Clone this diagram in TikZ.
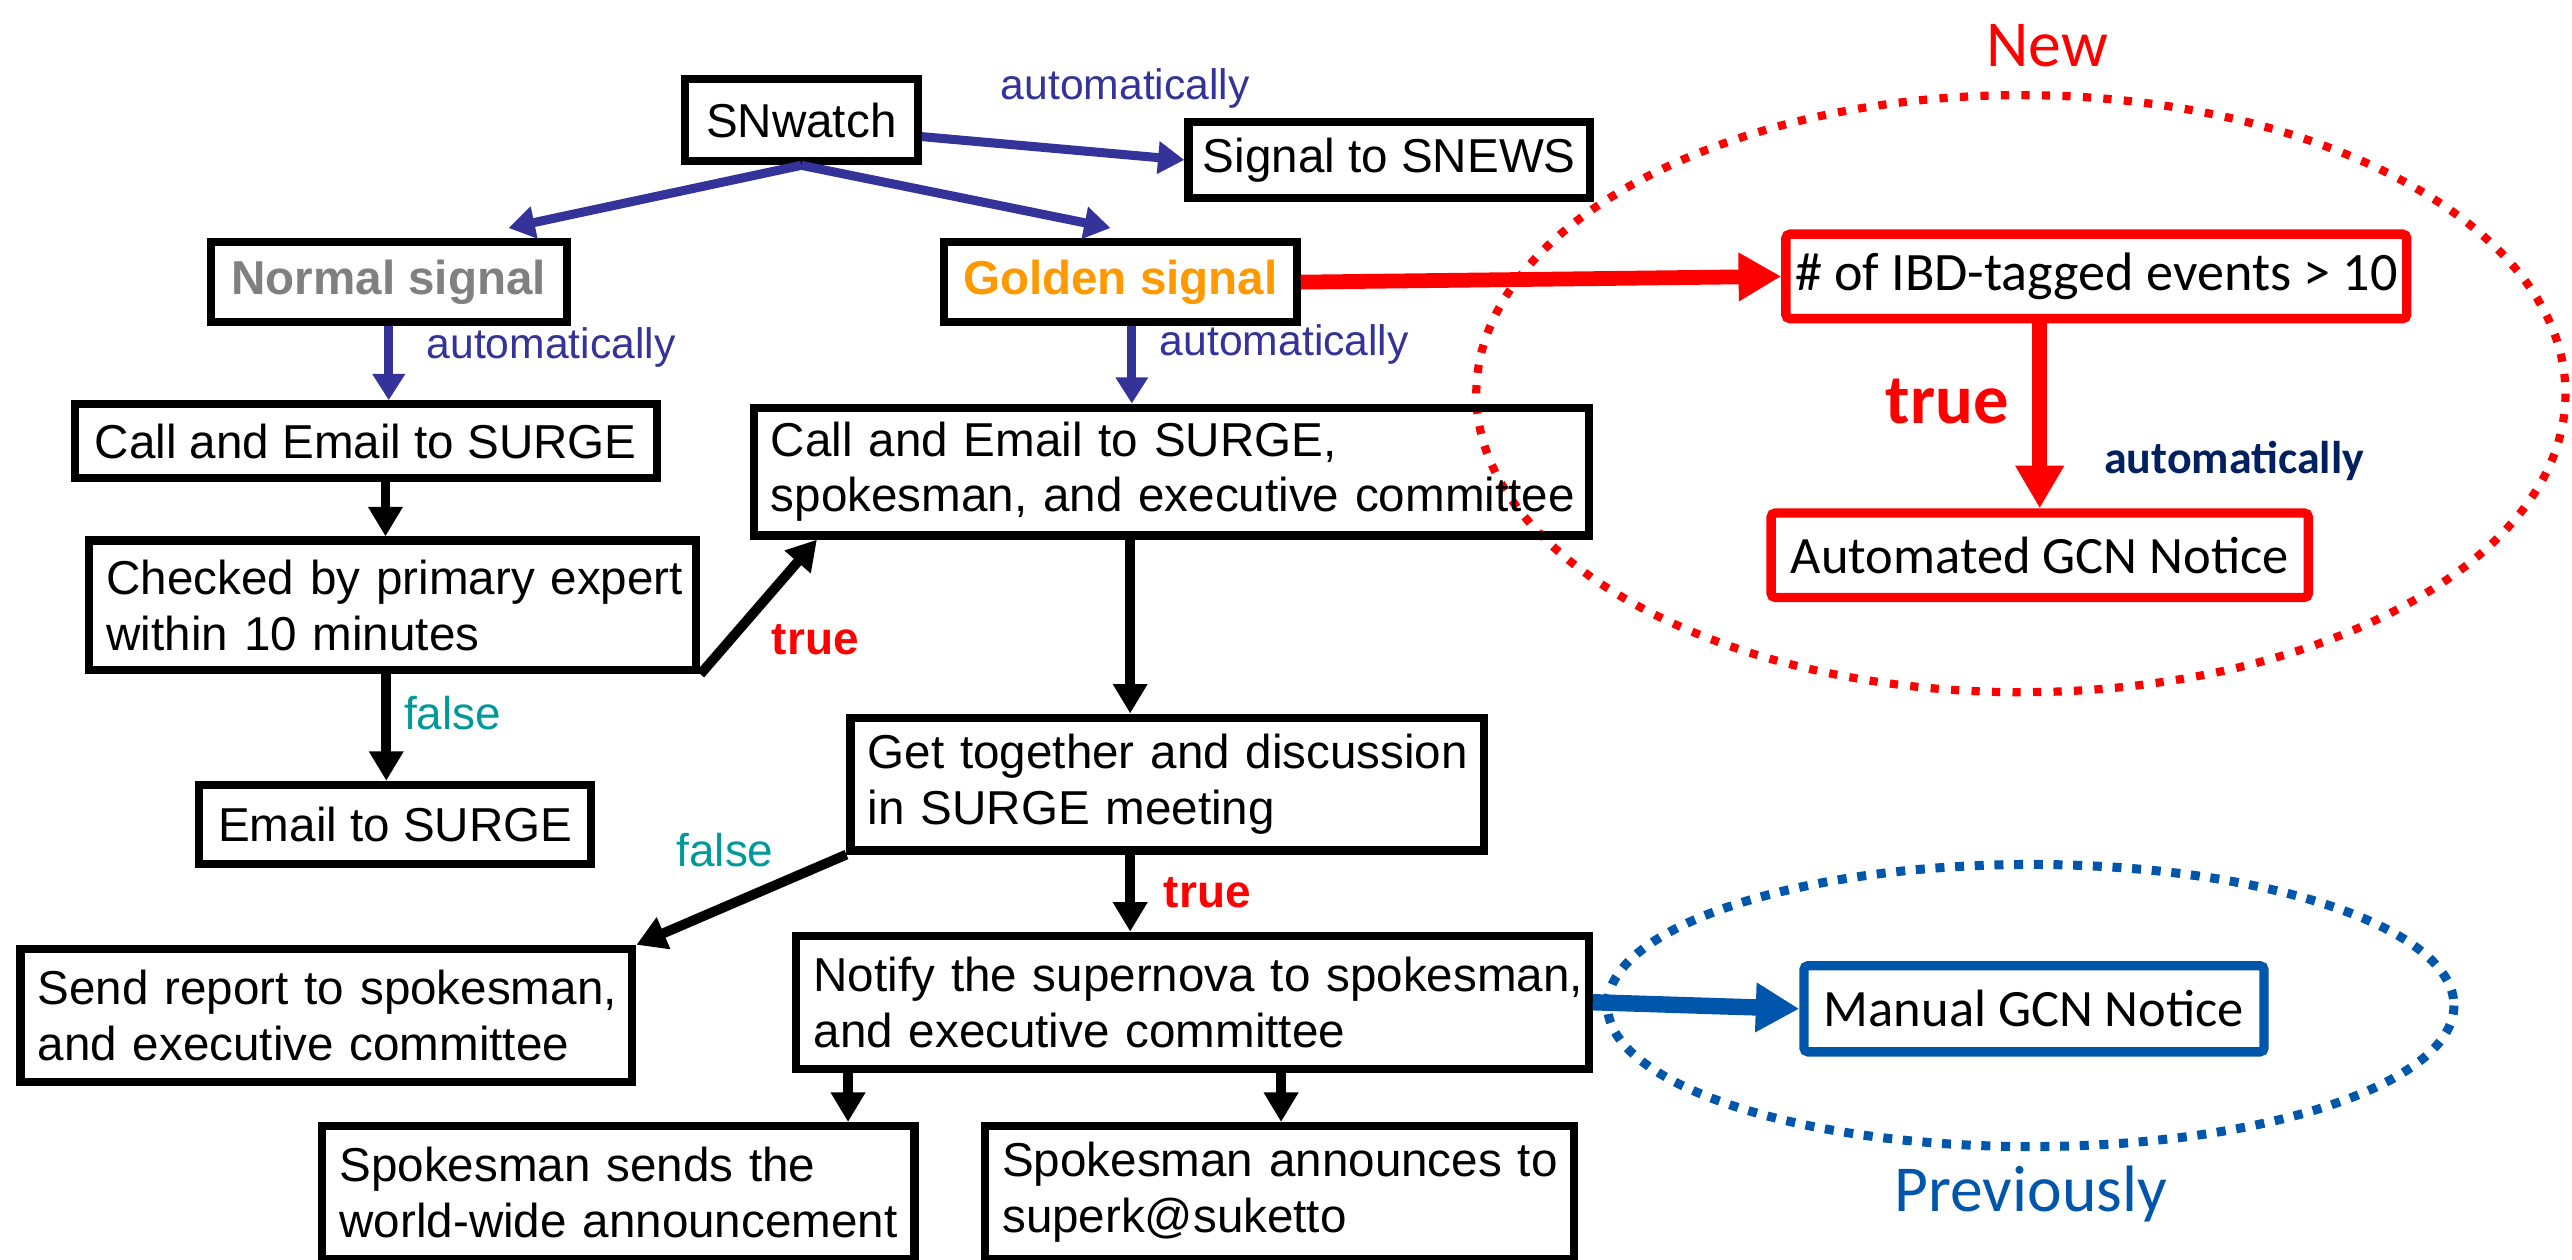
\documentclass[tikz,border=0pt]{standalone}
\usepackage{fontspec}
\setmainfont{Liberation Sans}
\newfontfamily\calib{Carlito}
\usetikzlibrary{arrows.meta,calc}
\definecolor{navyA}{RGB}{51,51,153}
\definecolor{goldC}{RGB}{255,153,0}
\definecolor{grayC}{RGB}{128,128,128}
\definecolor{tealC}{RGB}{0,153,153}
\definecolor{redC}{RGB}{255,0,0}
\definecolor{blueC}{RGB}{0,86,170}
\definecolor{navyT}{RGB}{0,32,96}
\newcommand\oneln[1]{\mbox{#1}}
\tikzset{
  bx/.style={draw=black, line width=5pt, inner sep=0pt, font=\fontsize{29}{34}\selectfont, align=center},
  lbx/.style={bx, align=left},
  rbx/.style={draw=redC, line width=5.7pt, rounded corners=2.5pt, inner sep=0pt, font={\calib\fontsize{32}{38}\selectfont}, align=center},
  bbx/.style={draw=blueC, line width=5.7pt, rounded corners=2.5pt, inner sep=0pt, font={\calib\fontsize{32}{38}\selectfont}, align=center},
  navyarr/.style={draw=navyA, line width=5.5pt, -{Triangle[length=16pt,width=19pt]}},
  blkarr/.style={draw=black, line width=6pt, -{Triangle[length=18pt,width=20pt]}},
  redarr/.style={draw=redC, line width=9pt, -{Triangle[length=26pt,width=28pt]}},
  bluearr/.style={draw=blueC, line width=10pt, -{Triangle[length=26.5pt,width=28.5pt]}},
  autolab/.style={inner sep=0pt, text=navyA, font=\fontsize{26}{30}\selectfont},
  falselab/.style={inner sep=0pt, text=tealC, font=\fontsize{28}{32}\selectfont},
  truelab/.style={inner sep=0pt, text=redC, font=\bfseries\fontsize{28}{32}\selectfont},
  bigred/.style={inner sep=0pt, text=redC, font={\calib\fontsize{40}{46}\selectfont}},
  bigblue/.style={inner sep=0pt, text=blueC, font={\calib\fontsize{40}{46}\selectfont}},
  reddots/.style={draw=redC, line width=5pt, dash pattern=on 5pt off 7.5pt},
  bluedots/.style={draw=blueC, line width=5.5pt, dash pattern=on 5.5pt off 6.5pt}
}
\begin{document}
\begin{tikzpicture}[x=1pt,y=-1pt]
\fill[white] (0,0) rectangle (1568,768);
\useasboundingbox (0,0) rectangle (1568,768);

% ellipses
\draw[reddots] (1232,240) ellipse [x radius=332, y radius=182];
\draw[bluedots] (1238,613) ellipse [x radius=258, y radius=86];

% boxes
\node[bx, minimum width=142, minimum height=50] (snw) at (488.5,73.3) {SNwatch};
\node[bx, minimum width=245, minimum height=46] (snews) at (847,97.5) {Signal to SNEWS};
\node[bx, minimum width=217, minimum height=49, text=grayC, font=\bfseries\fontsize{29}{34}\selectfont] (normal) at (237,172) {Normal signal};
\node[bx, minimum width=215, minimum height=49, text=goldC, font=\bfseries\fontsize{29}{34}\selectfont] (golden) at (683,172) {Golden signal};
\node[bx, minimum width=355, minimum height=45] (call1) at (223,269) {Call and Email to SURGE};
\node[lbx, minimum width=509, minimum height=78, text width=488pt] (call2) at (714,287.5)
  {\oneln{Call and Email to SURGE,}\\\oneln{spokesman, and executive committee}};
\node[lbx, minimum width=370, minimum height=79, text width=349pt] (check) at (239.5,369)
  {\oneln{Checked by primary expert}\\\oneln{within 10 minutes}};
\node[bx, minimum width=239, minimum height=48] (email) at (241,502.5) {Email to SURGE};
\node[lbx, minimum width=386, minimum height=81, text width=365pt] (meet) at (711.5,478)
  {\oneln{Get together and discussion}\\\oneln{in SURGE meeting}};
\node[lbx, minimum width=373, minimum height=81, text width=352pt] (report) at (199,619)
  {\oneln{Send report to spokesman,}\\\oneln{and executive committee}};
\node[lbx, minimum width=483, minimum height=81, text width=462pt] (notify) at (727,611)
  {\oneln{Notify the supernova to spokesman,}\\\oneln{and executive committee}};
\node[lbx, minimum width=361, minimum height=81, text width=340pt] (sends) at (377,727)
  {\oneln{Spokesman sends the}\\\oneln{world-wide announcement}};
\node[lbx, minimum width=359, minimum height=81, text width=338pt] (announce) at (780,727)
  {\oneln{Spokesman announces to}\\\oneln{superk@suketto}};

\node[rbx, minimum width=378.5, minimum height=51.5, font={\calib\fontsize{33}{38}\selectfont}] (ibd) at (1278,168.5) {\# of IBD-tagged events > 10};
\node[rbx, minimum width=327.5, minimum height=51.5] (auto) at (1243.5,338.5) {Automated GCN Notice};
\node[bbx, minimum width=280.5, minimum height=52.5] (manual) at (1240,615) {Manual GCN Notice};

% connectors
\draw[navyarr] ($(snw.east)+(0,10)$) -- (snews.west);
\draw[navyarr] (snw.south) -- ($(normal.north)+(73,-6)$);
\draw[navyarr] (snw.south) -- ($(golden.north)+(-6,-6)$);
\draw[navyarr] (normal.south) -- (normal.south |- call1.north);
\draw[navyarr] ([xshift=7pt]golden.south) -- ([xshift=7pt]golden.south |- call2.north);
\draw[blkarr] ([xshift=12pt]call1.south) -- ([xshift=12pt]call1.south |- check.north);
\draw[blkarr] ([xshift=-4pt]check.south) -- ([xshift=-4pt]check.south |- email.north);
\draw[blkarr] (check.south east) -- ($(call2.south west)+(41,0)$);
\draw[blkarr] ([xshift=-25pt]call2.south) -- ([xshift=-25pt]call2.south |- meet.north);
\draw[blkarr] ([xshift=-22.5pt]meet.south) -- ([xshift=-22.5pt]meet.south |- notify.north);
\draw[blkarr] (meet.south west) -- (report.north east);
\draw[blkarr] ([xshift=-210pt]notify.south) -- ([xshift=-210pt]notify.south |- sends.north);
\draw[blkarr] ([xshift=54pt]notify.south) -- ([xshift=54pt]notify.south |- announce.north);
\draw[redarr] (golden.east) -- (ibd.west);
\draw[redarr] (auto.north |- ibd.south) -- (auto.north);
\draw[bluearr] (notify.east) -- (manual.west);

% labels
\node[autolab] (la0) at (686,54) {automatically};
\node[autolab] (la1) at (336,212) {automatically};
\node[autolab] (la2) at (783,210) {automatically};
\node[truelab] (lt1) at (497,390) {true};
\node[falselab] (lf1) at (276,435) {false};
\node[falselab] (lf2) at (442,518) {false};
\node[truelab] (lt2) at (736,544) {true};
\node[bigred] (lnew) at (1248,28) {New};
\node[inner sep=0pt, text=redC, font={\calib\bfseries\fontsize{43}{50}\selectfont}] (lt3) at (1187,245) {true};
\node[inner sep=0pt, text=navyT, font={\calib\bfseries\fontsize{28}{32}\selectfont}] (la3) at (1362,281) {automatically};
\node[bigblue] (lprev) at (1238,728) {Previously};
\end{tikzpicture}
\end{document}
